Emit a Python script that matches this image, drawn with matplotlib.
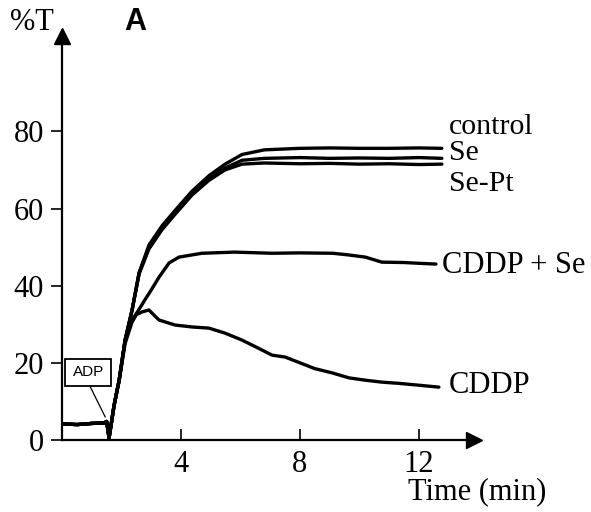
import matplotlib
matplotlib.use("Agg")
import matplotlib.pyplot as plt
from matplotlib.patches import Rectangle

# ---- data ----
t_top = [0, 0.5, 1.0, 1.4, 1.5, 1.58, 1.75, 1.92, 2.12, 2.35, 2.59, 2.92, 3.36, 3.8,
         4.37, 4.94, 5.48, 6.05, 6.8, 8, 9, 10, 11, 12, 12.77]
control = [4.2, 4.0, 4.3, 4.4, 4.8, 0.5, 9, 15.5, 25.9, 33.5, 43.3, 50.5, 55.5, 59.5,
           64.5, 68.5, 71.5, 74.0, 75.2, 75.6, 75.7, 75.6, 75.6, 75.7, 75.6]
se = [4.2, 4.0, 4.3, 4.4, 4.8, 0.5, 9, 15.5, 25.9, 33.5, 43.3, 50.0, 55.0, 59.0,
      64.0, 67.9, 70.5, 72.5, 73.0, 73.2, 73.0, 73.1, 73.0, 73.2, 73.0]
se_pt = [4.2, 4.0, 4.3, 4.4, 4.8, 0.5, 9, 15.5, 25.9, 33.5, 43.0, 49.5, 54.5, 58.5,
         63.5, 67.3, 70.0, 71.5, 71.8, 71.6, 71.7, 71.5, 71.6, 71.4, 71.5]

t_cs = [0, 0.5, 1.0, 1.4, 1.5, 1.58, 1.75, 1.92, 2.12, 2.35, 2.6, 2.8, 3.0, 3.26, 3.6,
        3.93, 4.7, 5.8, 7.06, 8, 9.1, 9.6, 10.2, 10.75, 11.5, 12.0, 12.57]
cddp_se = [4.2, 4.0, 4.3, 4.4, 4.8, 0.5, 9, 15.5, 25.9, 31.0, 34.0, 36.5, 38.9, 42.2, 45.9,
           47.4, 48.4, 48.7, 48.4, 48.5, 48.4, 48.0, 47.4, 46.1, 46.0, 45.8, 45.6]

t_c = [0, 0.5, 1.0, 1.4, 1.5, 1.58, 1.75, 1.92, 2.12, 2.35, 2.5, 2.69, 2.92, 3.26, 3.8,
       4.37, 4.94, 5.48, 6.05, 6.6, 7.06, 7.5, 8, 8.5, 9.08, 9.65, 10.2, 10.75, 11.3,
       12.0, 12.67]
cddp = [4.2, 4.0, 4.3, 4.4, 4.8, 0.5, 9, 15.5, 25.0, 30.5, 32.5, 33.2, 33.7, 31.1, 29.8,
        29.3, 29.0, 27.7, 25.9, 23.8, 22.0, 21.5, 20.0, 18.5, 17.4, 16.1, 15.5, 15.0, 14.7,
        14.2, 13.7]

xticks = [4, 8, 12]
yticks = [0, 20, 40, 60, 80]

serif = "Liberation Serif"
sans = "Liberation Sans"

fig = plt.figure(figsize=(5.91, 5.12), dpi=100)
ax = fig.add_axes([0.105, 0.1406, 0.697, 0.789])
ax.set_xlim(0, 13.85)
ax.set_ylim(0, 104.7)

for x, y in [(t_top, control), (t_top, se), (t_top, se_pt), (t_cs, cddp_se), (t_c, cddp)]:
    ax.plot(x, y, color="black", lw=2.4, solid_joinstyle="round", solid_capstyle="round")

for s in ["top", "right"]:
    ax.spines[s].set_visible(False)
for s in ["left", "bottom"]:
    ax.spines[s].set_linewidth(1.6)

ax.plot(0, 1, marker="^", color="black", ms=12, transform=ax.transAxes, clip_on=False)
ax.plot(1, 0, marker=">", color="black", ms=11, transform=ax.transAxes, clip_on=False)

ax.set_xticks(xticks)
ax.set_yticks(yticks)
ax.tick_params(axis="y", direction="out", length=8, width=1.2, pad=5)
ax.tick_params(axis="x", direction="in", length=8, width=1.2, pad=7)
for lab in ax.get_xticklabels() + ax.get_yticklabels():
    lab.set_fontfamily(serif)
    lab.set_fontsize(22)

# curve labels
lab_kw = dict(fontfamily=serif, va="baseline", ha="left", clip_on=False)
ax.text(13.0, 79.3, "control", fontsize=21.5, **lab_kw)
ax.text(13.0, 72.6, "Se", fontsize=21.5, **lab_kw)
ax.text(13.0, 64.6, "Se-Pt", fontsize=21.5, **lab_kw)
ax.text(12.77, 43.3, "CDDP + Se", fontsize=22, **lab_kw)
ax.text(13.0, 12.2, "CDDP", fontsize=22, **lab_kw)

# ADP box
ax.add_patch(Rectangle((0.1, 14.0), 1.55, 7.0, fill=False, lw=1.3, ec="black"))
ax.text(0.88, 17.5, "ADP", fontfamily=sans, fontsize=11, ha="center", va="center")
ax.plot([0.94, 1.45], [13.9, 6.0], color="black", lw=0.9)

fig.text(0.054, 0.941, "%T", fontfamily=serif, fontsize=22, ha="center", va="baseline")
fig.text(0.228, 0.941, "A", fontfamily=sans, fontweight="bold", fontsize=22,
         ha="center", va="baseline")
fig.text(0.807, 0.025, "Time (min)", fontfamily=serif, fontsize=22, ha="center",
         va="baseline")

fig.savefig("out.png", dpi=100)
